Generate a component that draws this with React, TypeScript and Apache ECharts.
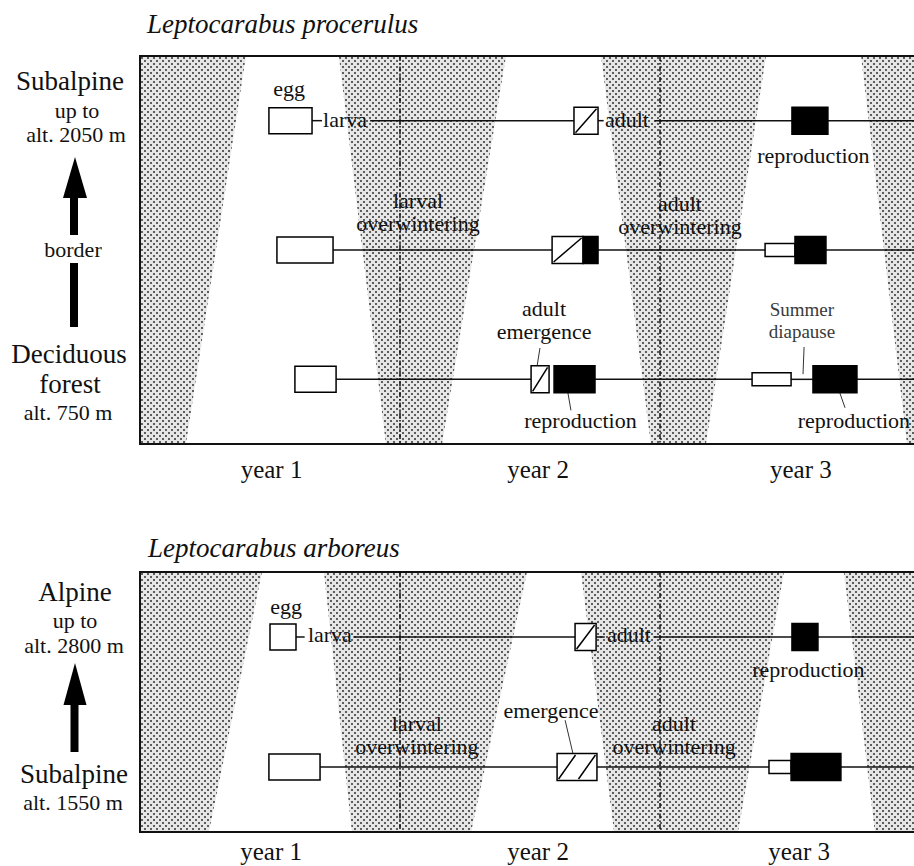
import React, { useEffect, useRef } from 'react';
import * as echarts from 'echarts';

const SERIF = '"Liberation Serif", "Times New Roman", Times, serif';

// time axis: months counted from the start of year 1
const yearBoundaries = [12, 24, 36];
const yearNames = ['year 1', 'year 2', 'year 3'];
const yearLabelPosTop = [6.07, 18.37, 30.5];
const yearLabelPosBottom = [6.05, 18.37, 30.42];

// ---------- Leptocarabus procerulus (row 0 subalpine, 1 border, 2 deciduous forest) ----------
// winter: [start at upper edge, end at upper edge, start at lower edge, end at lower edge]
const procerulusWinter = [
  [-2, 4.89, -2, 2.12],
  [9.18, 16.89, 11.35, 13.94],
  [21.28, 28.89, 23.58, 26.12],
  [33.28, 45, 35.4, 45],
];
// stage boxes: [kind, row, start, end]
const procerulusStages: [string, number, number, number][] = [
  ['egg', 0, 5.95, 7.94], ['emerge', 0, 20.03, 21.14], ['repro', 0, 30.09, 31.75],
  ['egg', 1, 6.32, 8.91], ['emerge', 1, 19.02, 20.45], ['repro', 1, 20.45, 21.14],
  ['diapause', 1, 28.85, 30.23], ['repro', 1, 30.23, 31.66],
  ['egg', 2, 7.15, 9.05], ['emerge', 2, 18.05, 18.88], ['repro', 2, 19.11, 21.0],
  ['diapause', 2, 28.25, 30.05], ['repro', 2, 31.06, 33.09],
];
// life line segments: [row, from, to]
const procerulusLines = [
  [0, 7.94, 8.4], [0, 10.62, 20.03], [0, 21.14, 21.4], [0, 23.75, 30.09], [0, 31.75, 40],
  [1, 8.91, 19.02], [1, 21.14, 28.85], [1, 31.66, 40],
  [2, 9.05, 18.05], [2, 21.0, 28.25], [2, 30.05, 31.06], [2, 33.09, 40],
];
// labels: [text, x, y, align, size]
const procerulusLabels: [string, number, number, string, string][] = [
  ['egg', 6.88, -0.245, 'center', 'n'],
  ['larva', 8.45, -0.01, 'left', 'n'],
  ['adult', 21.46, -0.01, 'left', 'n'],
  ['reproduction', 31.08, 0.27, 'center', 'n'],
  ['larval\noverwintering', 12.83, 0.71, 'center', 'n'],
  ['adult\noverwintering', 24.92, 0.727, 'center', 'n'],
  ['adult\nemergence', 18.65, 1.543, 'center', 'n'],
  ['Summer\ndiapause', 30.55, 1.545, 'center', 's'],
  ['reproduction', 20.33, 2.32, 'center', 'n'],
  ['reproduction', 32.95, 2.32, 'center', 'n'],
];
// leader ticks: [x1, y1, x2, y2]
const procerulusLeaders = [
  [18.46, 1.758, 18.32, 1.905],
  [19.75, 2.105, 19.89, 2.24],
  [30.65, 1.75, 30.6, 1.96],
  [32.3, 2.105, 32.54, 2.22],
];

// ---------- Leptocarabus arboreus (row 0 alpine, 1 subalpine) ----------
const arboreusWinter = [
  [-2, 5.63, -2, 3.18],
  [8.49, 17.86, 9.78, 15.28],
  [20.35, 29.72, 21.88, 27.6],
  [32.49, 45, 33.92, 45],
];
const arboreusStages: [string, number, number, number][] = [
  ['egg', 0, 6.0, 7.2], ['emerge', 0, 20.08, 21.05], ['repro', 0, 30.09, 31.29],
  ['egg', 1, 5.95, 8.31], ['emerge', 1, 19.25, 21.09], ['diapause', 1, 29.03, 30.05], ['repro', 1, 30.05, 32.35],
];
const arboreusLines = [
  [0, 7.2, 7.6], [0, 9.85, 20.08], [0, 21.05, 21.45], [0, 23.7, 30.09], [0, 31.29, 40],
  [1, 8.31, 19.25], [1, 21.09, 29.03], [1, 32.35, 40],
];
const arboreusLabels: [string, number, number, string, string][] = [
  ['egg', 6.74, -0.235, 'center', 'n'],
  ['larva', 7.75, -0.02, 'left', 'n'],
  ['adult', 21.55, -0.02, 'left', 'n'],
  ['reproduction', 30.85, 0.25, 'center', 'n'],
  ['larval\noverwintering', 12.78, 0.755, 'center', 'n'],
  ['emergence', 18.97, 0.565, 'center', 'n'],
  ['adult\noverwintering', 24.65, 0.755, 'center', 'n'],
];
const arboreusLeaders = [[19.62, 0.64, 19.98, 0.895]];

const BOX_H: Record<string, number> = { egg: 26, emerge: 27, repro: 27, diapause: 13 };

function panelSeries(
  idx: number,
  yTop: number,
  yBot: number,
  winter: number[][],
  stages: [string, number, number, number][],
  lines: number[][],
  labels: [string, number, number, string, string][],
  leaders: number[][],
  yearPos: number[],
  yearRow: number,
  pattern: any
) {
  const base = { type: 'custom', coordinateSystem: 'cartesian2d', xAxisIndex: idx, yAxisIndex: idx, silent: true };
  return [
    {
      ...base, z: 1, clip: true, data: winter,
      renderItem: (params: any, api: any) => {
        const a = api.coord([api.value(0), yTop]);
        const b = api.coord([api.value(1), yTop]);
        const c = api.coord([api.value(3), yBot]);
        const d = api.coord([api.value(2), yBot]);
        return { type: 'polygon', shape: { points: [a, b, c, d] }, style: { fill: pattern, stroke: null } };
      },
    },
    {
      ...base, z: 2, clip: true, data: yearBoundaries.map((v) => [v, 0]),
      renderItem: (params: any, api: any) => {
        const a = api.coord([api.value(0), yTop]);
        const b = api.coord([api.value(0), yBot]);
        return {
          type: 'line', shape: { x1: a[0], y1: a[1], x2: b[0], y2: b[1] },
          style: { stroke: '#111', lineWidth: 1.5, lineDash: [5, 2, 1.5, 2] },
        };
      },
    },
    {
      ...base, z: 3, clip: true, data: lines,
      renderItem: (params: any, api: any) => {
        const a = api.coord([api.value(1), api.value(0)]);
        const b = api.coord([api.value(2), api.value(0)]);
        return {
          type: 'line', shape: { x1: a[0], y1: a[1], x2: b[0], y2: b[1] },
          style: { stroke: '#111', lineWidth: 1.5 },
        };
      },
    },
    {
      ...base, z: 3, clip: true, data: leaders,
      renderItem: (params: any, api: any) => {
        const a = api.coord([api.value(0), api.value(1)]);
        const b = api.coord([api.value(2), api.value(3)]);
        return {
          type: 'line', shape: { x1: a[0], y1: a[1], x2: b[0], y2: b[1] },
          style: { stroke: '#333', lineWidth: 1 },
        };
      },
    },
    {
      ...base, z: 4, clip: true, data: stages.map((s) => [s[1], s[2], s[3]]),
      renderItem: (params: any, api: any) => {
        const kind = stages[params.dataIndex][0];
        const a = api.coord([api.value(1), api.value(0)]);
        const b = api.coord([api.value(2), api.value(0)]);
        const h = BOX_H[kind];
        const x = a[0];
        const w = b[0] - a[0];
        const y = a[1] - h / 2;
        const children: any[] = [
          {
            type: 'rect', shape: { x, y, width: w, height: h },
            style: { fill: kind === 'repro' ? '#000' : '#fff', stroke: '#000', lineWidth: 1.5 },
          },
        ];
        if (kind === 'emerge') {
          const n = w / h > 1.3 ? 2 : 1;
          for (let i = 0; i < n; i++) {
            children.push({
              type: 'line',
              shape: { x1: x + (i * w) / n + 1.5, y1: y + h - 1.5, x2: x + ((i + 1) * w) / n - 1.5, y2: y + 1.5 },
              style: { stroke: '#000', lineWidth: 1.5 },
            });
          }
        }
        return { type: 'group', children };
      },
    },
    {
      ...base, z: 5, clip: false, data: labels.map((l) => [l[1], l[2]]),
      renderItem: (params: any, api: any) => {
        const l = labels[params.dataIndex];
        const p = api.coord([api.value(0), api.value(1)]);
        const small = l[4] === 's';
        return {
          type: 'text', x: p[0], y: p[1],
          style: {
            text: l[0], fill: small ? '#3a3a3a' : '#111', fontSize: small ? 19 : 22, fontFamily: SERIF,
            lineHeight: small ? 22 : 23, align: l[3], verticalAlign: 'middle',
          },
        };
      },
    },
    {
      ...base, z: 5, clip: false, data: yearPos.map((v) => [v, yearRow]),
      renderItem: (params: any, api: any) => {
        const p = api.coord([api.value(0), api.value(1)]);
        return {
          type: 'text', x: p[0], y: p[1],
          style: {
            text: yearNames[params.dataIndex], fill: '#111', fontSize: 25, fontFamily: SERIF,
            align: 'center', verticalAlign: 'middle',
          },
        };
      },
    },
    {
      ...base, z: 6, clip: false, data: [[0, 0]],
      renderItem: (params: any) => {
        const cs = params.coordSys;
        return {
          type: 'rect', shape: { x: cs.x, y: cs.y, width: cs.width, height: cs.height },
          style: { fill: 'none', stroke: '#111', lineWidth: 2 },
        };
      },
    },
  ];
}

function txt(text: string, x: number, y: number, size: number, extra: any = {}) {
  return {
    type: 'text', x, y, silent: true,
    style: {
      text, fontSize: size, fontFamily: SERIF, fill: '#111',
      align: 'center', verticalAlign: 'middle', textAlign: 'center', textVerticalAlign: 'middle', ...extra,
    },
  };
}

export default function App() {
  const ref = useRef<HTMLDivElement>(null);
  useEffect(() => {
    if (!ref.current) return;
    const chart = echarts.init(ref.current, null, { renderer: 'svg' });
    const tile = document.createElement('canvas');
    tile.width = 6;
    tile.height = 6;
    const g = tile.getContext('2d')!;
    g.fillStyle = '#e6e6e6';
    g.fillRect(0, 0, 6, 6);
    g.fillStyle = '#5e5e5e';
    g.fillRect(0, 0, 2, 2);
    g.fillRect(3, 3, 2, 2);
    const pattern = { image: tile, repeat: 'repeat', imageWidth: 6, imageHeight: 6 };

    const axisOff = { show: false };
    const option: any = {
      animation: false,
      backgroundColor: '#fff',
      grid: [
        { left: 140, top: 56, width: 780, height: 388, show: false },
        { left: 140, top: 572, width: 780, height: 260, show: false },
      ],
      xAxis: [
        { type: 'value', gridIndex: 0, min: 0, max: 36, ...axisOff },
        { type: 'value', gridIndex: 1, min: 0, max: 36, ...axisOff },
      ],
      yAxis: [
        { type: 'value', gridIndex: 0, min: -0.5, max: 2.5, inverse: true, ...axisOff },
        { type: 'value', gridIndex: 1, min: -0.5, max: 1.5, inverse: true, ...axisOff },
      ],
      graphic: [
        txt('Leptocarabus procerulus', 147, 24, 27, { fontStyle: 'italic', align: 'left', textAlign: 'left' }),
        txt('Leptocarabus arboreus', 148, 548, 27, { fontStyle: 'italic', align: 'left', textAlign: 'left' }),
        txt('Subalpine', 70, 81, 27),
        txt('up to', 77, 110.5, 22),
        txt('alt. 2050 m', 76, 134.5, 22),
        { type: 'polygon', silent: true, shape: { points: [[75, 157], [87, 198], [63, 198]] }, style: { fill: '#000' } },
        { type: 'rect', silent: true, shape: { x: 70, y: 197, width: 8, height: 38 }, style: { fill: '#000' } },
        txt('border', 73, 249.5, 22),
        { type: 'rect', silent: true, shape: { x: 70, y: 263, width: 8, height: 64 }, style: { fill: '#000' } },
        txt('Deciduous', 69, 354, 27),
        txt('forest', 70, 384, 27),
        txt('alt. 750 m', 68, 412.5, 22),
        txt('Alpine', 75, 592, 27),
        txt('up to', 75, 620.5, 22),
        txt('alt. 2800 m', 74, 645.5, 22),
        { type: 'polygon', silent: true, shape: { points: [[75, 663], [86.5, 705], [63.5, 705]] }, style: { fill: '#000' } },
        { type: 'rect', silent: true, shape: { x: 70.5, y: 704, width: 8, height: 48 }, style: { fill: '#000' } },
        txt('Subalpine', 74, 774, 27),
        txt('alt. 1550 m', 73, 802.5, 22),
      ],
      series: [
        ...panelSeries(0, -0.5, 2.5, procerulusWinter, procerulusStages, procerulusLines, procerulusLabels,
          procerulusLeaders, yearLabelPosTop, 2.7, pattern),
        ...panelSeries(1, -0.5, 1.5, arboreusWinter, arboreusStages, arboreusLines, arboreusLabels,
          arboreusLeaders, yearLabelPosBottom, 1.65, pattern),
      ],
    };
    chart.setOption(option);
    return () => chart.dispose();
  }, []);
  return (
    <div style={{ position: 'absolute', left: 0, top: 0, width: 914, height: 866, overflow: 'hidden', background: '#fff' }}>
      <div ref={ref} style={{ width: 930, height: 866 }} />
    </div>
  );
}
